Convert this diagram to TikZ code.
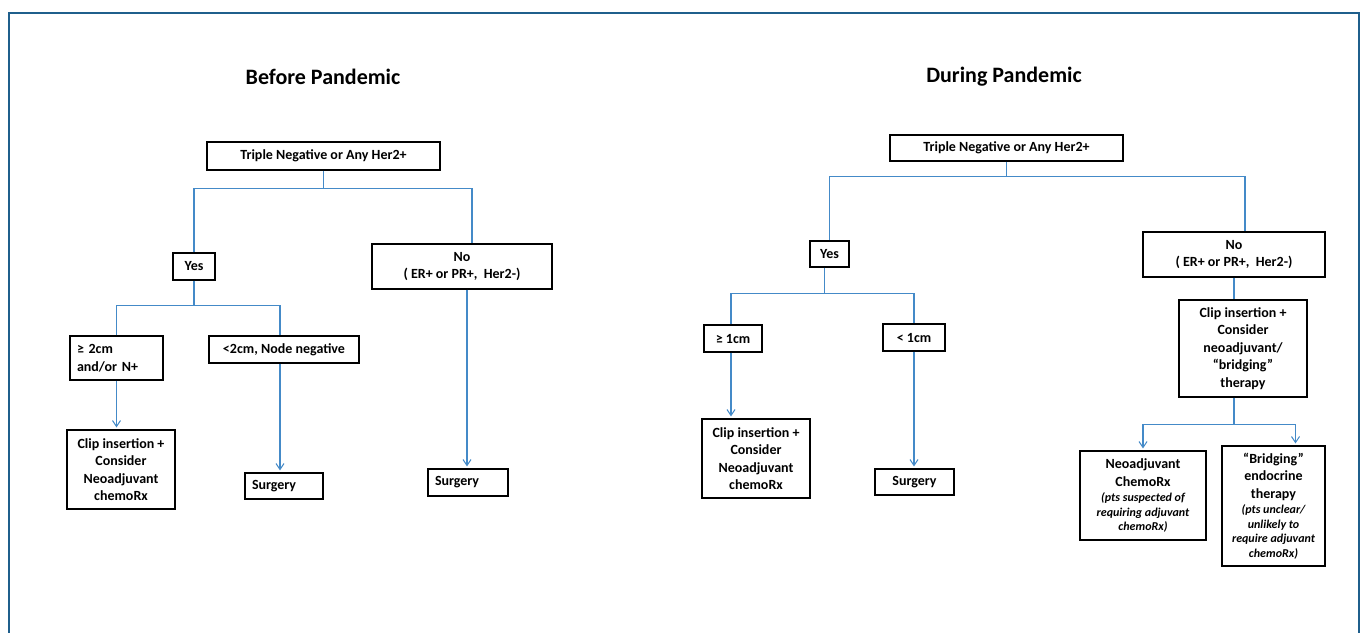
\documentclass[tikz,border=0pt]{standalone}
\usepackage{fontspec}
\setmainfont{Carlito}
\usetikzlibrary{arrows.meta,calc}
\definecolor{framecol}{RGB}{31,95,140}
\definecolor{conncol}{RGB}{68,138,200}
\newcommand\mynotefont{\bfseries\itshape\fontsize{12}{14}\selectfont}
\begin{document}
\begin{tikzpicture}[x=1pt,y=-1pt,
 box/.style={draw=black,line width=1.2pt,inner sep=0pt,align=center,font=\bfseries\fontsize{14}{17.5}\selectfont},
 lbox/.style={box,align=left,inner xsep=7pt},
 cline/.style={draw=conncol,line width=1.1pt},
 arr/.style={cline,-{Straight Barb[length=6pt,width=8pt,line width=1pt]},shorten >=2pt},
 title/.style={font=\bfseries\fontsize{22}{26}\selectfont}
]
\useasboundingbox (0,0) rectangle (1362,632);
\fill[white] (0,0) rectangle (1362,632);
\draw[framecol, line width=2.5pt] (9,640) -- (9,13) -- (1359,13) -- (1359,640);

% titles
\node[title] (t1) at (323,77) {Before Pandemic};
\node[title] (t2) at (1004,77) {During Pandemic};

% left tree
\node[box,minimum width=233pt,minimum height=28pt] (tn1) at (323.5,156) {Triple Negative or Any Her2+};
\node[box,minimum width=42pt,minimum height=27pt] (yes1) at (194,266.5) {Yes};
\node[box,minimum width=180pt,minimum height=45pt] (no1) at (462,266.5) {No\\( ER+ or PR+,\ \ Her2-)};
\node[lbox,text width=79pt,minimum height=44pt] (ge2) at (116.5,358) {≥ 2cm\\and/or N+};
\node[box,minimum width=150pt,minimum height=27pt] (lt2) at (284,349.5) {<2cm, Node negative};
\node[box,minimum width=108pt,minimum height=79pt] (clip1) at (121,469.5) {Clip insertion +\\Consider\\Neoadjuvant\\chemoRx};
\node[lbox,text width=64pt,minimum height=26pt] (surg1) at (284,486) {Surgery};
\node[lbox,text width=66pt,minimum height=27pt] (surg2) at (468,482.5) {Surgery};

\draw[cline] (tn1.south) -- ++(0,18) coordinate (j1);
\draw[cline] (yes1.north) |- (j1) -| ([xshift=10pt]no1.north);
\draw[cline] (yes1.south) -- ++(0,25) coordinate (j2);
\draw[cline] (ge2.north) |- (j2) -| ([xshift=-4pt]lt2.north);
\draw[arr] (ge2.south) -- (ge2.south |- clip1.north);
\draw[arr] ([xshift=-4pt]lt2.south) -- ([xshift=-4pt]lt2.south |- surg1.north);
\draw[arr] ([xshift=5pt]no1.south) -- ([xshift=5pt]no1.south |- surg2.north);

% right tree
\node[box,minimum width=233pt,minimum height=26pt] (tn2) at (1006.5,148) {Triple Negative or Any Her2+};
\node[box,minimum width=39pt,minimum height=26pt] (yes2) at (829.5,254) {Yes};
\node[box,minimum width=182pt,minimum height=45pt] (no2) at (1234,254.5) {No\\( ER+ or PR+,\ \ Her2-)};
\node[box,minimum width=58pt,minimum height=27pt] (ge1) at (733,338.5) {≥ 1cm};
\node[box,minimum width=62pt,minimum height=27pt] (lt1) at (914,337.5) {< 1cm};
\node[box,minimum width=108pt,minimum height=79pt] (clip2) at (756,458.5) {Clip insertion +\\Consider\\Neoadjuvant\\chemoRx};
\node[box,minimum width=79pt,minimum height=26pt] (surg3) at (914.5,482) {Surgery};
\node[box,minimum width=128pt,minimum height=97pt] (clip3) at (1243,348.5) {Clip insertion +\\Consider\\neoadjuvant/\\“bridging”\\therapy};
\node[box,minimum width=126pt,minimum height=89pt] (neo) at (1143,495.5) {Neoadjuvant\\ChemoRx\\[-2pt]{\mynotefont (pts suspected of}\\[-3pt]{\mynotefont requiring adjuvant}\\[-3pt]{\mynotefont chemoRx)}};
\node[box,minimum width=103pt,minimum height=120pt] (bridge) at (1273.5,506) {“Bridging”\\endocrine\\therapy\\[-2pt]{\mynotefont (pts unclear/}\\[-3pt]{\mynotefont unlikely to}\\[-3pt]{\mynotefont require adjuvant}\\[-3pt]{\mynotefont chemoRx)}};

\draw[cline] (tn2.south) -- ++(0,15) coordinate (j3);
\draw[cline] (yes2.north) |- (j3) -| ([xshift=11pt]no2.north);
\draw[cline] ([xshift=-5pt]yes2.south) -- ++(0,26) coordinate (j4);
\draw[cline] ([xshift=-2pt]ge1.north) |- (j4) -| (lt1.north);
\draw[arr] ([xshift=-2pt]ge1.south) -- ([xshift=-2pt]ge1.south |- clip2.north);
\draw[arr] (lt1.south) -- (lt1.south |- surg3.north);
\draw[cline] (no2.south) -- (no2.south |- clip3.north);
\draw[cline] ([xshift=-9pt]clip3.south) -- ++(0,27) coordinate (j5);
\draw[arr] (j5) -| (neo.north);
\draw[arr] (j5) -| ([xshift=22pt]bridge.north);
\end{tikzpicture}
\end{document}
